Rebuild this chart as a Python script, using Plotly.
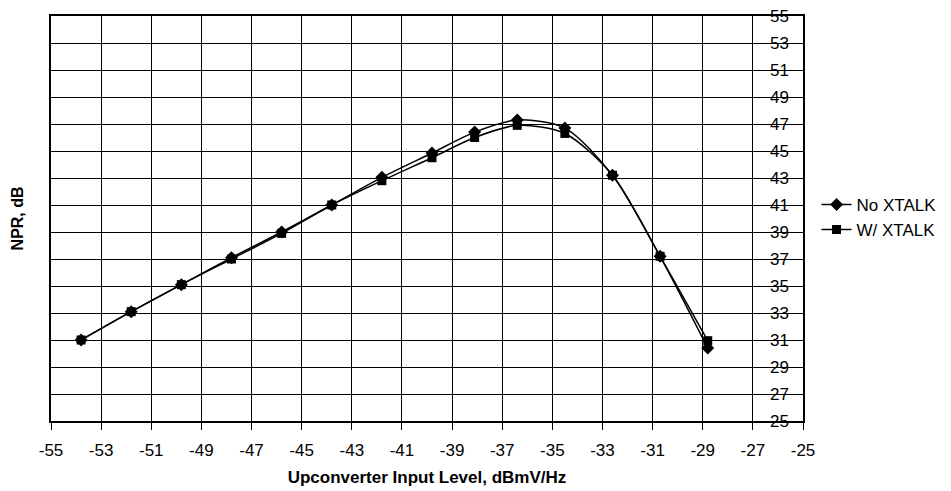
import plotly.graph_objects as go

x_levels = [-53.8, -51.8, -49.8, -47.8, -45.8, -43.8, -41.8, -39.8, -38.1, -36.4, -34.5, -32.6, -30.7, -28.8]
npr_no_xtalk = [31.0, 33.1, 35.1, 37.1, 39.0, 41.0, 43.05, 44.85, 46.4, 47.3, 46.7, 43.2, 37.2, 30.4]
npr_w_xtalk = [31.0, 33.1, 35.1, 37.0, 38.9, 41.0, 42.8, 44.5, 46.0, 46.9, 46.3, 43.2, 37.2, 30.95]
x_ticks = list(range(-55, -24, 2))
y_ticks = list(range(25, 56, 2))

FONT = "Liberation Sans, Arial, sans-serif"

fig = go.Figure()
fig.add_trace(go.Scatter(
    x=x_levels, y=npr_no_xtalk, name="No XTALK", mode="lines+markers",
    line=dict(color="black", width=1.5, shape="spline", smoothing=0.8),
    marker=dict(symbol="diamond", size=10, color="black"),
    legendgroup="a",
))
fig.add_trace(go.Scatter(
    x=x_levels, y=npr_w_xtalk, name="W/ XTALK", mode="lines+markers",
    line=dict(color="black", width=1.5, shape="spline", smoothing=0.8),
    marker=dict(symbol="square", size=9, color="black"),
    legendgroup="b",
))
# invisible helper trace so the label axis (y2) is rendered
fig.add_trace(go.Scatter(
    x=x_levels, y=npr_no_xtalk, yaxis="y2", mode="lines",
    line=dict(color="rgba(0,0,0,0)"), showlegend=False, hoverinfo="skip",
))

fig.update_layout(
    width=951, height=491,
    margin=dict(l=51, r=148, t=16, b=70, autoexpand=False),
    paper_bgcolor="white", plot_bgcolor="white",
    font=dict(family=FONT, size=17, color="black"),
    legend=dict(x=1.018, y=0.578, xanchor="left", yanchor="top",
                font=dict(size=17), tracegroupgap=0, bgcolor="rgba(0,0,0,0)"),
    xaxis=dict(
        range=[-55, -25], tickvals=x_ticks, ticktext=[str(v) for v in x_ticks],
        showgrid=True, gridcolor="black", gridwidth=1,
        showline=True, linecolor="black", linewidth=2, mirror=True,
        ticks="outside", ticklen=7, tickcolor="black", tickwidth=1,
        ticklabelstandoff=6,
        tickfont=dict(size=17), zeroline=False, automargin=False,
        title=dict(text="<b>Upconverter Input Level, dBmV/Hz</b>", font=dict(size=17), standoff=12),
    ),
    yaxis=dict(
        range=[25, 55], tickvals=y_ticks,
        showgrid=True, gridcolor="black", gridwidth=1,
        showline=True, linecolor="black", linewidth=2, mirror=True,
        ticks="", showticklabels=False, zeroline=False, automargin=False,
    ),
    yaxis2=dict(
        range=[25, 55], tickvals=y_ticks, ticktext=[str(v) for v in y_ticks],
        overlaying="y", anchor="free", position=1.0, side="left",
        showgrid=False, showline=False, zeroline=False, ticks="",
        ticklabelstandoff=14, tickfont=dict(size=17), automargin=False,
    ),
)
fig.add_annotation(text="<b>NPR, dB</b>", xref="paper", yref="paper", x=-0.044, y=0.5,
                   textangle=-90, showarrow=False, font=dict(size=16), xanchor="center", yanchor="middle")
fig.write_html("out.html", config={"displayModeBar": False},
               post_script="document.body.style.margin='0';")
